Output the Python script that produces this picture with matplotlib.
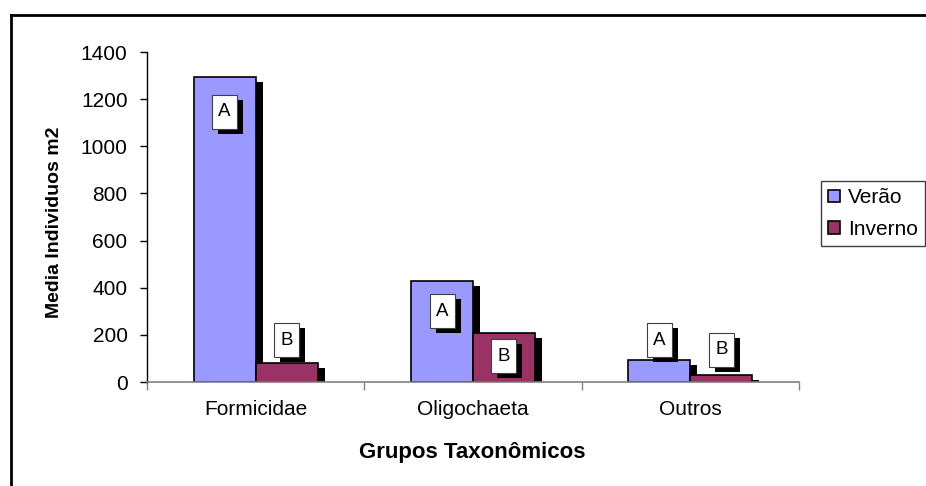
import matplotlib
matplotlib.use("Agg")
import matplotlib.pyplot as plt
import matplotlib.transforms as mtransforms
from matplotlib.patches import Patch, Rectangle
from matplotlib.lines import Line2D
import numpy as np

plt.rcParams['font.family'] = ['Liberation Sans', 'DejaVu Sans']

categories = ["Formicidae", "Oligochaeta", "Outros"]
verao = [1295, 428, 93]
inverno = [80, 208, 30]
verao_letters = ["A", "A", "A"]
inverno_letters = ["B", "B", "B"]
verao_letter_y = [1146, 301, 178]
inverno_letter_y = [178, 110, 136]
yticks = [0, 200, 400, 600, 800, 1000, 1200, 1400]

c_verao = "#9999FF"
c_inverno = "#993366"

fig = plt.figure(figsize=(9.26, 4.86), dpi=100)
W, H = 926, 486
ax = fig.add_axes([147 / W, (H - 382) / H, (799 - 147) / W, 330 / H])

x = np.arange(len(categories))
bw = 0.285

ax.set_xlim(-0.5, 2.5)
ax.set_ylim(0, 1400)

shadow = mtransforms.offset_copy(ax.transData, fig=fig, x=7, y=-5, units='dots')
for xs, vals in ((x - bw / 2, verao), (x + bw / 2, inverno)):
    ax.bar(xs, vals, width=bw, color='black', edgecolor='none', transform=shadow, zorder=1)
ax.bar(x - bw / 2, verao, width=bw, color=c_verao, edgecolor='black', linewidth=1.2, zorder=2)
ax.bar(x + bw / 2, inverno, width=bw, color=c_inverno, edgecolor='black', linewidth=1.2, zorder=2)

# letter boxes (25 x 34 px) with drop shadow
bx, by = 25, 34
for xs, letters, ys in ((x - bw / 2, verao_letters, verao_letter_y),
                        (x + bw / 2, inverno_letters, inverno_letter_y)):
    for xi, L, yi in zip(xs, letters, ys):
        anchor = mtransforms.ScaledTranslation(xi, yi, ax.transData)
        sh = Rectangle((-bx / 2 + 6, -by / 2 - 5), bx, by, facecolor='black', edgecolor='none',
                       transform=mtransforms.IdentityTransform() + anchor, zorder=3, clip_on=False)
        bxp = Rectangle((-bx / 2, -by / 2), bx, by, facecolor='white', edgecolor='#404040', lw=0.8,
                        transform=mtransforms.IdentityTransform() + anchor, zorder=4, clip_on=False)
        ax.add_artist(sh)
        ax.add_artist(bxp)
        ax.text(xi, yi, L, ha='center', va='center', fontsize=13.5, color='black', zorder=5)

ax.set_xlim(-0.5, 2.5)
ax.set_ylim(0, 1400)
ax.set_yticks(yticks)
ax.set_yticklabels([str(t) for t in yticks])
ax.set_xticks(x)
ax.set_xticklabels(categories)
ax.set_xticks([-0.5, 0.5, 1.5, 2.5], minor=True)
ax.tick_params(axis='y', direction='out', length=5, width=1, pad=9, labelsize=15, colors='black')
ax.tick_params(axis='x', which='major', length=0, pad=13, labelsize=15)
ax.tick_params(axis='x', which='minor', direction='out', length=6, width=1, color='#808080')

for s in ('top', 'right'):
    ax.spines[s].set_visible(False)
ax.spines['left'].set_color('black')
ax.spines['left'].set_linewidth(1)
ax.spines['bottom'].set_color('#808080')
ax.spines['bottom'].set_linewidth(1.2)

fig.text(55 / W, 1 - 222 / H, "Media Individuos m2", rotation=90, ha='center', va='center',
         fontsize=14, fontweight='bold')
fig.text(472 / W, 1 - 452 / H, "Grupos Taxonômicos", ha='center', va='center',
         fontsize=16, fontweight='bold')

handles = [Patch(facecolor=c_verao, edgecolor='black', linewidth=1.2, label="Verão"),
           Patch(facecolor=c_inverno, edgecolor='black', linewidth=1.2, label="Inverno")]
leg = fig.legend(handles=handles, loc='upper left', bbox_to_anchor=(821 / W, 1 - 181 / H),
                 borderaxespad=0, fontsize=15, handlelength=0.55, handleheight=0.55,
                 handletextpad=0.4, labelspacing=0.6, borderpad=0.35,
                 fancybox=False, framealpha=1, edgecolor='#404040')
leg.get_frame().set_linewidth(1)

# outer chart border (left and top)
fig.add_artist(Line2D([10.5 / W, 10.5 / W], [0, 1 - 15 / H], color='black', lw=2, transform=fig.transFigure))
fig.add_artist(Line2D([10.5 / W, 1], [1 - 15 / H, 1 - 15 / H], color='black', lw=2, transform=fig.transFigure))

fig.savefig("out.png", dpi=100)
